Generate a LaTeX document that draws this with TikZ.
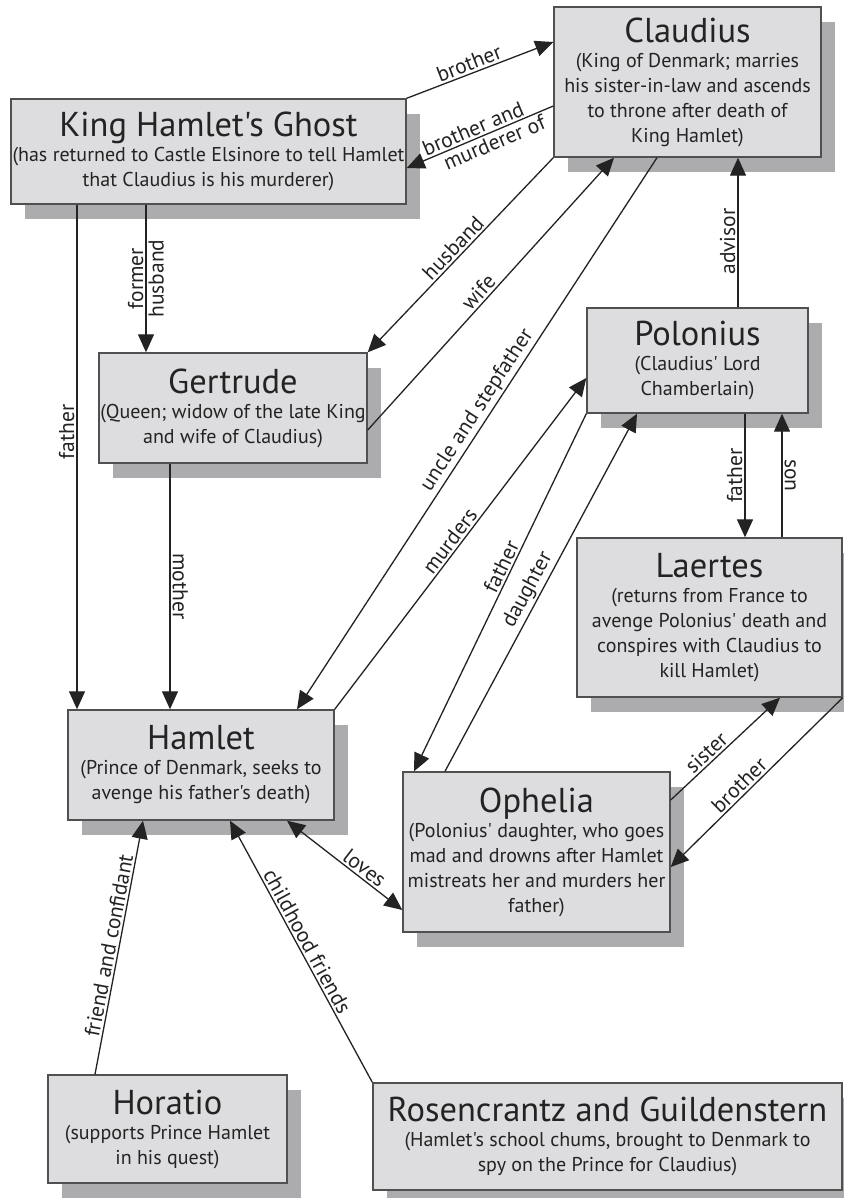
\documentclass[tikz,border=0pt]{standalone}
\usepackage{fontspec}
\setmainfont{PT Sans}
\newfontfamily\chartfont{PT Sans}
\usepackage{xcolor}
\usetikzlibrary{arrows.meta}
\usetikzlibrary{shadows}
\usetikzlibrary{calc}

\definecolor{boxfill}{RGB}{221,221,223}
\definecolor{boxline}{RGB}{80,80,80}
\definecolor{shadowgray}{RGB}{172,172,174}
\definecolor{inkgray}{RGB}{35,35,35}
\newcommand{\persona}[1]{{\fontsize{34.5}{36}\selectfont #1}}

\begin{document}
\begin{tikzpicture}[x=1pt, y=-1pt, >={Triangle[length=18pt,width=16pt]},
  person/.style={draw=boxline, line width=1.4pt, fill=boxfill, text=inkgray,
    align=center, inner sep=0pt, font=\chartfont\fontsize{20}{25}\selectfont,
    drop shadow={shadow xshift=14pt, shadow yshift=-15pt, fill=shadowgray, opacity=1}},
  rel/.style={->, line width=1.3pt, draw=inkgray},
  lbl/.style={font=\chartfont\fontsize{21.5}{23}\selectfont, text=inkgray, inner sep=2pt}]
\fill[white] (0,0) rectangle (843,1198);
\useasboundingbox (0,0) rectangle (843,1198);

%characters
\node[person, minimum width=395pt, minimum height=105pt] (ghost) at (208.5,151.5)
  {\persona{King Hamlet's Ghost}\\(has returned to Castle Elsinore to tell Hamlet\\that Claudius is his murderer)};
\node[person, minimum width=267pt, minimum height=150pt] (claudius) at (687.5,82)
  {\persona{Claudius}\\(King of Denmark; marries\\his sister-in-law and ascends\\to throne after death of\\King Hamlet)};
\node[person, minimum width=268pt, minimum height=110pt] (gertrude) at (233,408)
  {\persona{Gertrude}\\(Queen; widow of the late King\\and wife of Claudius)};
\node[person, minimum width=221pt, minimum height=105pt] (polonius) at (697.5,360.5)
  {\persona{Polonius}\\(Claudius' Lord\\Chamberlain)};
\node[person, minimum width=265pt, minimum height=159pt] (laertes) at (709.5,617.5)
  {\persona{Laertes}\\(returns from France to\\avenge Polonius' death and\\conspires with Claudius to\\kill Hamlet)};
\node[person, minimum width=266pt, minimum height=110pt] (hamlet) at (201,765)
  {\persona{Hamlet}\\(Prince of Denmark, seeks to\\avenge his father's death)};
\node[person, minimum width=267pt, minimum height=160pt] (ophelia) at (536.5,852)
  {\persona{Ophelia}\\(Polonius' daughter, who goes\\mad and drowns after Hamlet\\mistreats her and murders her\\father)};
\node[person, minimum width=239pt, minimum height=108pt] (horatio) at (167.5,1129)
  {\persona{Horatio}\\(supports Prince Hamlet\\in his quest)};
\node[person, minimum width=469pt, minimum height=107pt] (rosguil) at (607.5,1136.5)
  {\persona{Rosencrantz and Guildenstern}\\(Hamlet's school chums, brought to Denmark to\\spy on the Prince for Claudius)};

%relations
\draw[rel] (ghost.north east) -- node[lbl, above, sloped, pos=0.45] {brother} ([yshift=40pt]claudius.west);
\draw[rel] ([yshift=-24pt]claudius.west) -- node[lbl, above, sloped, pos=0.52] {brother and}
  node[lbl, below, sloped, pos=0.43] {murderer of} ([yshift=-16.5pt]ghost.east);
\draw[rel] ([xshift=-62.5pt]ghost.south) -- node[lbl, rotate=90, anchor=south] {former}
  node[lbl, rotate=90, anchor=north] {husband} ([xshift=-87pt]gertrude.north);
\draw[rel] (claudius.south west) -- node[lbl, above, sloped, pos=0.5] {husband} (gertrude.north east);
\draw[rel] ([yshift=-22pt]gertrude.east) -- node[lbl, above, sloped, pos=0.48] {wife} ([xshift=-73.5pt]claudius.south);
\draw[rel] ([xshift=-131.5pt]ghost.south) -- node[lbl, rotate=90, anchor=south, pos=0.45] {father} ([xshift=-124pt]hamlet.north);
\draw[rel] ([xshift=-63pt]gertrude.south) -- node[lbl, rotate=-90, anchor=south] {mother} ([xshift=-31pt]hamlet.north);
\draw[rel] ([xshift=-30.5pt]claudius.south) -- node[lbl, above, sloped, pos=0.47] {uncle and stepfather} ([xshift=96pt]hamlet.north);
\draw[rel] (hamlet.north east) -- node[lbl, above, sloped, pos=0.49] {murders} ([yshift=-17.5pt]polonius.west);
\draw[rel] ([xshift=40.5pt]polonius.north) -- node[lbl, rotate=90, anchor=south, pos=0.44] {advisor} ([xshift=50.5pt]claudius.south);
\draw[rel] (polonius.south west) -- node[lbl, above, sloped, pos=0.44] {father} ([xshift=-122.5pt]ophelia.north);
\draw[rel] ([xshift=-91.5pt]ophelia.north) -- node[lbl, above, sloped, pos=0.49] {daughter} ([xshift=-60.5pt]polonius.south);
\draw[rel] ([xshift=47.5pt]polonius.south) -- node[lbl, rotate=90, anchor=south] {father} ([xshift=35.5pt]laertes.north);
\draw[rel] ([xshift=72.5pt]laertes.north) -- node[lbl, rotate=-90, anchor=south] {son} ([xshift=84.5pt]polonius.south);
\draw[rel] ([yshift=52pt]ophelia.east) -- node[lbl, above, sloped, pos=0.39] {sister} ([xshift=70.5pt]laertes.south);
\draw[rel] (laertes.south east) -- node[lbl, above, sloped, pos=0.56] {brother} ([yshift=-15pt]ophelia.east);
\draw[rel, <->] ([xshift=86pt]hamlet.south) -- node[lbl, above, sloped, pos=0.62] {loves} ([yshift=-58pt]ophelia.west);
\draw[rel] ([xshift=-72.5pt]horatio.north) -- node[lbl, above, sloped, pos=0.5] {friend and confidant} ([xshift=-58pt]hamlet.south);
\draw[rel] (rosguil.north west) -- node[lbl, above, sloped, pos=0.52] {childhood friends} ([xshift=29pt]hamlet.south);
\end{tikzpicture}
\end{document}
